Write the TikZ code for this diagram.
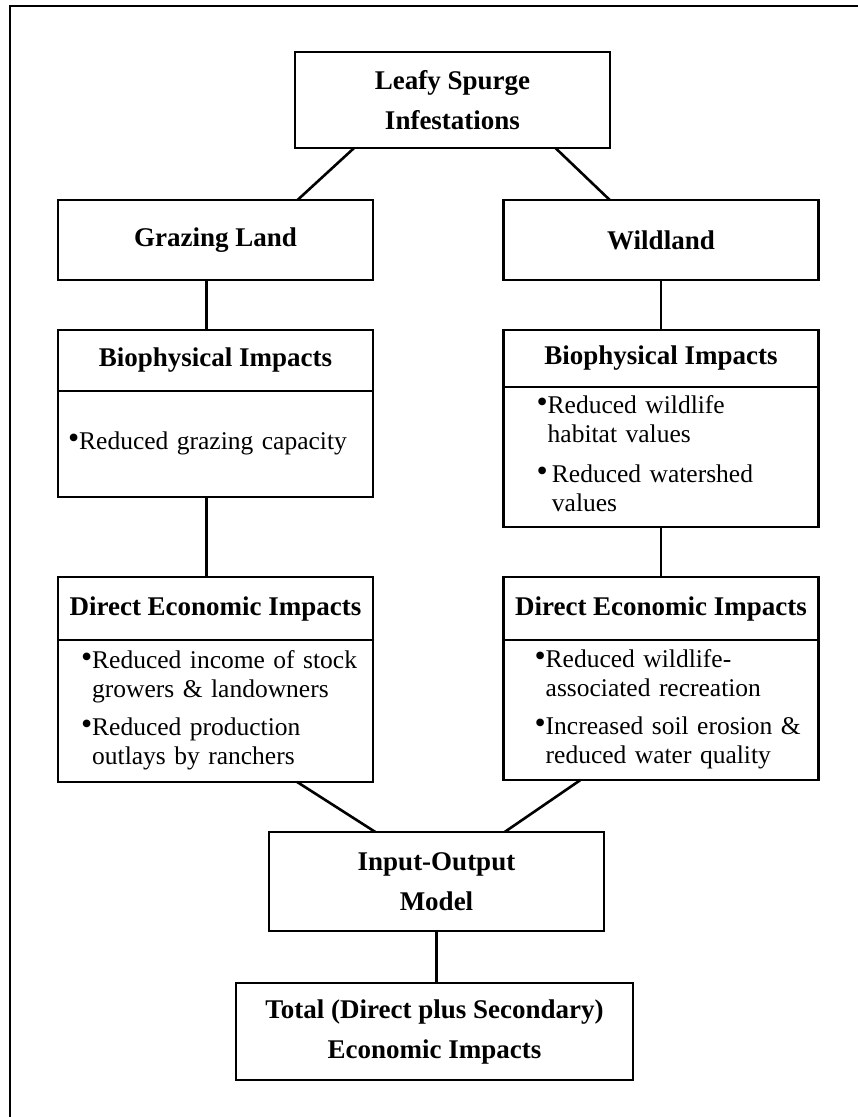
\documentclass[tikz,border=0pt]{standalone}
\usepackage{fontspec}
\setmainfont{Liberation Serif}
\newcommand\dotb{\raisebox{1.5pt}{\fontsize{32}{32}\selectfont\textbullet}}
\begin{document}
\begin{tikzpicture}[x=1pt,y=-1pt,line width=2.6pt,
	every node/.style={font=\fontsize{27}{40}\selectfont\bfseries},
	box/.style={draw,minimum width=315pt,inner sep=0pt,outer sep=0pt,align=center},
	body/.style={draw,inner ysep=0pt,outer sep=0pt,align=left,font=\fontsize{25.5}{29}\selectfont}]
	\useasboundingbox(0,0)rectangle(858,1117);
	\draw(858,6)--(10,6)--(10,1117);
	% top
	\node[box,minimum height=96pt](leafy)at(452.5,100){Leafy Spurge\\Infestations};
	\node[box,minimum height=80pt](graz)at(215.5,240){Grazing Land};
	\node[box,minimum height=80pt](wild)at(661,240){Wildland};
	% biophysical
	\node[box,minimum height=61pt](bioLh)at(215.5,360.5){Biophysical Impacts};
	\node[body,anchor=north,minimum height=106pt,text width=295pt,inner xsep=10pt](bioLb)at(bioLh.south){%
		\begin{tabular}{@{}l@{}l@{}}\dotb&Reduced grazing capacity\end{tabular}};
	\node[box,minimum height=57pt](bioRh)at(661,358.5){Biophysical Impacts};
	\node[body,anchor=north,minimum height=140pt,text width=249pt,inner xsep=33pt](bioRb)at(bioRh.south){%
		\begin{tabular}{@{}l@{}l@{}}\dotb&Reduced wildlife\\&habitat values\\[11pt]
		\dotb&\,Reduced watershed\\&\,values\end{tabular}};
	% direct economic
	\node[box,minimum height=63pt](dirLh)at(215.5,608.5){Direct Economic Impacts};
	\node[body,anchor=north,minimum height=142pt,text width=269pt,inner xsep=23pt](dirLb)at(dirLh.south){%
		\begin{tabular}{@{}l@{}l@{}}\dotb&Reduced income of stock\\&growers \& landowners\\[9pt]
		\dotb&Reduced production\\&outlays by ranchers\end{tabular}};
	\node[box,minimum height=63pt](dirRh)at(661,608.5){Direct Economic Impacts};
	\node[body,anchor=north,minimum height=140pt,text width=253pt,inner xsep=31pt](dirRb)at(dirRh.south){%
		\begin{tabular}{@{}l@{}l@{}}\dotb&Reduced wildlife-\\&associated recreation\\[9pt]
		\dotb&Increased soil erosion \&\\&reduced water quality\end{tabular}};
	% bottom
	\node[box,minimum width=335pt,minimum height=99pt](io)at(436.5,881.5){Input-Output\\Model};
	\node[box,minimum width=397pt,minimum height=97pt](total)at(434.5,1031.5){Total (Direct plus Secondary)\\Economic Impacts};
	% links
	\draw(leafy.206)--(graz.26);
	\draw(leafy.-25)--(wild.142);
	\draw([xshift=-9pt]graz.south)--([xshift=-9pt]bioLh.north);
	\draw([xshift=-9pt]bioLb.south)--([xshift=-9pt]dirLh.north);
	\draw(wild.south)--(bioRh.north);
	\draw(bioRb.south)--(dirRh.north);
	\draw(dirLb.-41)--(io.141);
	\draw(dirRb.221)--(io.36);
	\draw(io.south)--(io.south|-total.north);
\end{tikzpicture}
\end{document}
